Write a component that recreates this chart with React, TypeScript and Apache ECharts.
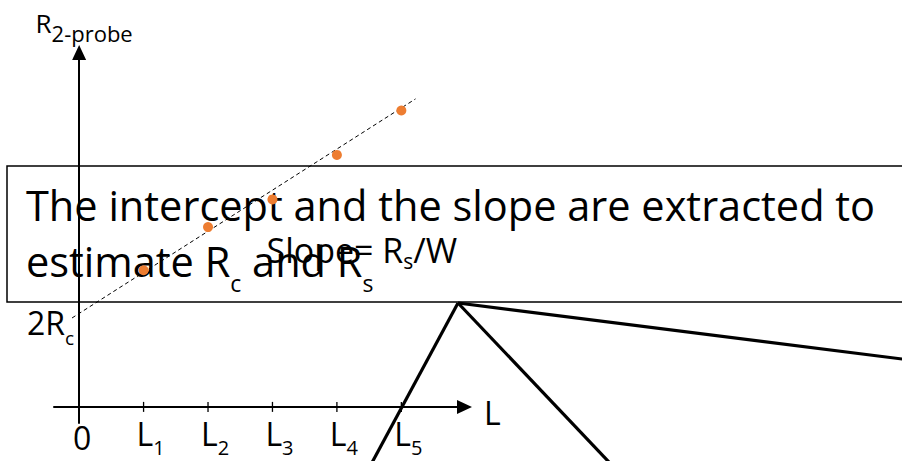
import React, { useEffect, useRef } from 'react';
import * as echarts from 'echarts';

// Channel lengths L1..L5 and the measured two-probe resistance at each
const lengthValues = [1, 2, 3, 4, 5];
const resistanceValues = [2.12, 2.79, 3.22, 3.91, 4.6];

// End points of the dashed linear fit
const fitLengths = [-0.11, 5.22];
const fitResistances = [1.38, 4.78];

// Fit intercept on the resistance axis (2Rc)
const interceptValue = 1.45;

// Length-axis tick labels: main glyph and subscript
const tickValues = [0, 1, 2, 3, 4, 5];
const tickMain = ['0', 'L', 'L', 'L', 'L', 'L'];
const tickSub = ['', '1', '2', '3', '4', '5'];

const FONT = '"Open Sans", "Noto Sans", sans-serif';
const INK = '#000000';
const ORANGE = '#ED7D31';

export default function App() {
  const ref = useRef<HTMLDivElement>(null);

  useEffect(() => {
    if (!ref.current) return;
    const chart = echarts.init(ref.current, null, { renderer: 'svg' });

    const fitData = fitLengths.map((x, i) => [x, fitResistances[i]]);
    const pointData = lengthValues.map((x, i) => [x, resistanceValues[i]]);
    const tickData = lengthValues.map((x) => [x, 0]);

    chart.setOption({
      animation: false,
      backgroundColor: '#ffffff',
      grid: {
        left: 54,
        right: 437.5,
        top: 52.5,
        bottom: 38,
        containLabel: false,
        outerBoundsMode: 'none',
      },
      xAxis: {
        type: 'value',
        min: -0.39,
        max: 5.98,
        splitLine: { show: false },
        axisTick: { show: false },
        axisLine: {
          onZero: true,
          symbol: ['none', 'triangle'],
          symbolSize: [14, 15],
          lineStyle: { color: INK, width: 2 },
        },
        axisLabel: {
          customValues: tickValues,
          margin: -5.5,
          color: INK,
          padding: [0, 0, 0, 14],
          formatter: (v: number) => {
            const i = tickValues.indexOf(Math.round(v));
            if (i < 0) return '';
            if (!tickSub[i]) return `{z|${tickMain[i]}}`;
            return `{m|${tickMain[i]}}{s|${tickSub[i]}}`;
          },
          rich: {
            z: { fontFamily: FONT, fontSize: 32, lineHeight: 32, color: INK, verticalAlign: 'top', padding: [4, 8, 0, 0] },
            m: { fontFamily: FONT, fontSize: 32, lineHeight: 32, color: INK, verticalAlign: 'top' },
            s: { fontFamily: FONT, fontSize: 20, lineHeight: 20, color: INK, verticalAlign: 'top', padding: [20, 0, 0, 0] },
          },
        },
        name: '{n|L}',
        nameLocation: 'end',
        nameGap: 19.5,
        nameMoveOverlap: false,
        nameTextStyle: {
          color: INK,
          rich: {
            n: { fontFamily: FONT, fontSize: 32, lineHeight: 32, color: INK, verticalAlign: 'top', padding: [6, 0, 0, 0] },
          },
        },
      },
      yAxis: {
        type: 'value',
        min: -0.25,
        max: 5.5,
        splitLine: { show: false },
        axisTick: { show: false },
        axisLabel: { show: false },
        axisLine: {
          onZero: true,
          symbol: ['none', 'triangle'],
          symbolSize: [14, 15],
          lineStyle: { color: INK, width: 2 },
        },
        name: '{r|R}{s|2-probe}',
        nameLocation: 'end',
        nameGap: 17,
        nameMoveOverlap: false,
        nameTextStyle: {
          color: INK,
          padding: [0, 0, 0, 10],
          rich: {
            r: { fontFamily: FONT, fontSize: 26, lineHeight: 26, color: INK, verticalAlign: 'top' },
            s: { fontFamily: FONT, fontSize: 22, lineHeight: 22, color: INK, verticalAlign: 'top', padding: [12.5, 0, 0, 0] },
          },
        },
      },
      series: [
        {
          type: 'line',
          data: fitData,
          symbol: 'none',
          silent: true,
          z: 3,
          lineStyle: { color: INK, width: 1, type: [4, 3] },
        },
        {
          type: 'scatter',
          data: pointData,
          symbol: 'circle',
          symbolSize: 10,
          z: 4,
          itemStyle: { color: ORANGE, opacity: 1 },
        },
        {
          // tick marks crossing the length axis
          type: 'scatter',
          data: tickData,
          symbol: 'rect',
          symbolSize: [1.3, 10],
          z: 3,
          itemStyle: { color: INK, opacity: 1 },
        },
        {
          // 2Rc marker at the intercept
          type: 'scatter',
          data: [[0, interceptValue]],
          symbolSize: 0,
          z: 3,
          label: {
            show: true,
            position: 'left',
            distance: 5,
            offset: [0, 9.5],
            color: INK,
            opacity: 1,
            formatter: '{m|2R}{s|c}',
            rich: {
              m: { fontFamily: FONT, fontSize: 32, lineHeight: 32, color: INK, verticalAlign: 'top' },
              s: { fontFamily: FONT, fontSize: 19, lineHeight: 19, color: INK, verticalAlign: 'top', padding: [22, 0, 0, 0] },
            },
          },
        },
      ],
      graphic: [
        {
          type: 'rect',
          z: 1,
          shape: { x: 7, y: 166, width: 1000, height: 136 },
          style: { fill: 'none', stroke: INK, lineWidth: 1.5 },
        },
        {
          type: 'text',
          z: 1,
          x: 26,
          y: 183.9,
          style: {
            text: '{m|The intercept and the slope are extracted to}',
            verticalAlign: 'top',
            rich: {
              m: { fontFamily: FONT, fontSize: 41.5, lineHeight: 42, fill: INK, verticalAlign: 'top' },
            },
          },
        },
        {
          type: 'text',
          z: 1,
          x: 26,
          y: 239.8,
          style: {
            text: '{m|estimate R}{s|c}{m| and R}{s|s}',
            verticalAlign: 'top',
            rich: {
              m: { fontFamily: FONT, fontSize: 41.5, lineHeight: 42, fill: INK, verticalAlign: 'top' },
              s: { fontFamily: FONT, fontSize: 23, lineHeight: 23, fill: INK, verticalAlign: 'top', padding: [32, 0, 0, 0] },
            },
          },
        },
        {
          type: 'text',
          z: 1,
          x: 266.5,
          y: 232.7,
          style: {
            text: '{m|Slope= R}{s|s}{m|/W}',
            verticalAlign: 'top',
            rich: {
              m: { fontFamily: FONT, fontSize: 34, lineHeight: 34, fill: INK, verticalAlign: 'top' },
              s: { fontFamily: FONT, fontSize: 21, lineHeight: 21, fill: INK, verticalAlign: 'top', padding: [17.5, 0, 0, 0] },
            },
          },
        },
        {
          type: 'line',
          z: 5,
          shape: { x1: 458, y1: 303, x2: 368, y2: 470 },
          style: { stroke: INK, lineWidth: 3.2 },
        },
        {
          type: 'line',
          z: 5,
          shape: { x1: 458, y1: 303, x2: 616.5, y2: 470 },
          style: { stroke: INK, lineWidth: 3.2 },
        },
        {
          type: 'line',
          z: 5,
          shape: { x1: 458, y1: 303, x2: 910, y2: 360 },
          style: { stroke: INK, lineWidth: 3.2 },
        },
      ],
    });

    return () => chart.dispose();
  }, []);

  return (
    <div
      ref={ref}
      style={{ position: 'absolute', left: 0, top: 0, width: 902, height: 461, background: '#fff' }}
    />
  );
}
